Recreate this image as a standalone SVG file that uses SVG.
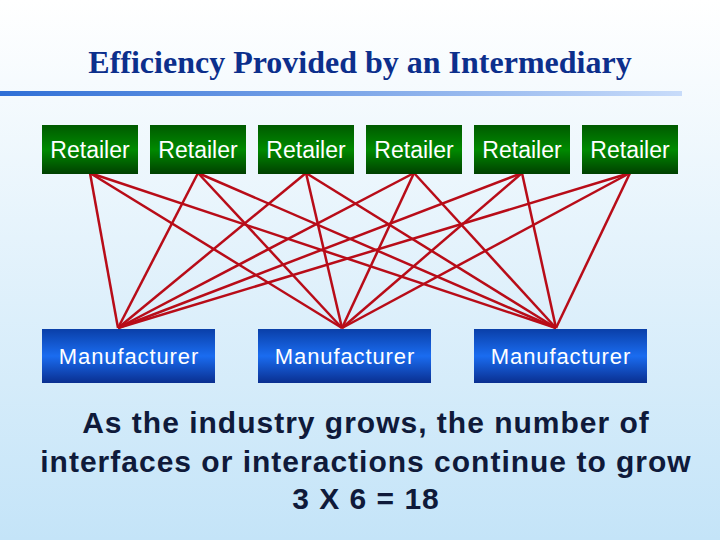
<svg xmlns="http://www.w3.org/2000/svg" width="720" height="540" viewBox="0 0 720 540">
<defs>
<linearGradient id="bg" x1="0" y1="0" x2="0" y2="1"><stop offset="0" stop-color="#ffffff"/><stop offset="1" stop-color="#c4e4f8"/></linearGradient>
<linearGradient id="hl" x1="0" y1="0" x2="1" y2="0"><stop offset="0" stop-color="#2f6fd6"/><stop offset="1" stop-color="#c8dcfa"/></linearGradient>
<linearGradient id="gr" x1="0" y1="0" x2="0" y2="1"><stop offset="0" stop-color="#005a00"/><stop offset="0.5" stop-color="#008a00"/><stop offset="1" stop-color="#004000"/></linearGradient>
<linearGradient id="bl" x1="0" y1="0" x2="0" y2="1"><stop offset="0" stop-color="#0a3fa8"/><stop offset="0.5" stop-color="#1a6cf0"/><stop offset="1" stop-color="#0a2f90"/></linearGradient>
<style>
.r{fill:url(#gr)} .m{fill:url(#bl)}
.t{font-family:"Liberation Sans",Arial,sans-serif;font-size:23px;fill:#ffffff;text-anchor:middle}
.tm{font-size:22px;letter-spacing:0.9px}
.c line{stroke:#b80c18;stroke-width:2.5}
.b{font-family:"Liberation Sans",Arial,sans-serif;font-weight:bold;font-size:30px;letter-spacing:1px;fill:#0f1a3a;text-anchor:middle}
</style>
</defs>
<rect width="720" height="540" fill="url(#bg)"/>
<text x="360" y="73" text-anchor="middle" font-family="Liberation Serif,serif" font-weight="bold" font-size="32" fill="#0c2f8c">Efficiency Provided by an Intermediary</text>
<rect x="0" y="91" width="682" height="5" fill="url(#hl)"/>
<g class="c">
<line x1="90" y1="173" x2="118" y2="328"/><line x1="90" y1="173" x2="342" y2="328"/><line x1="90" y1="173" x2="556" y2="328"/>
<line x1="198" y1="173" x2="118" y2="328"/><line x1="198" y1="173" x2="342" y2="328"/><line x1="198" y1="173" x2="556" y2="328"/>
<line x1="306" y1="173" x2="118" y2="328"/><line x1="306" y1="173" x2="342" y2="328"/><line x1="306" y1="173" x2="556" y2="328"/>
<line x1="414" y1="173" x2="118" y2="328"/><line x1="414" y1="173" x2="342" y2="328"/><line x1="414" y1="173" x2="556" y2="328"/>
<line x1="522" y1="173" x2="118" y2="328"/><line x1="522" y1="173" x2="342" y2="328"/><line x1="522" y1="173" x2="556" y2="328"/>
<line x1="630" y1="173" x2="118" y2="328"/><line x1="630" y1="173" x2="342" y2="328"/><line x1="630" y1="173" x2="556" y2="328"/>
</g>
<g id="r1"><rect class="r" x="42" y="125" width="96" height="49"/><text class="t" x="90" y="158">Retailer</text></g>
<g id="r2"><rect class="r" x="150" y="125" width="96" height="49"/><text class="t" x="198" y="158">Retailer</text></g>
<g id="r3"><rect class="r" x="258" y="125" width="96" height="49"/><text class="t" x="306" y="158">Retailer</text></g>
<g id="r4"><rect class="r" x="366" y="125" width="96" height="49"/><text class="t" x="414" y="158">Retailer</text></g>
<g id="r5"><rect class="r" x="474" y="125" width="96" height="49"/><text class="t" x="522" y="158">Retailer</text></g>
<g id="r6"><rect class="r" x="582" y="125" width="96" height="49"/><text class="t" x="630" y="158">Retailer</text></g>
<g id="m1"><rect class="m" x="42" y="329" width="173" height="54"/><text class="t tm" x="129" y="364">Manufacturer</text></g>
<g id="m2"><rect class="m" x="258" y="329" width="173" height="54"/><text class="t tm" x="345" y="364">Manufacturer</text></g>
<g id="m3"><rect class="m" x="474" y="329" width="173" height="54"/><text class="t tm" x="561" y="364">Manufacturer</text></g>
<text class="b" x="366" y="433">As the industry grows, the number of</text>
<text class="b" x="366" y="472">interfaces or interactions continue to grow</text>
<text class="b" x="366" y="509">3 X 6 = 18</text>
</svg>
